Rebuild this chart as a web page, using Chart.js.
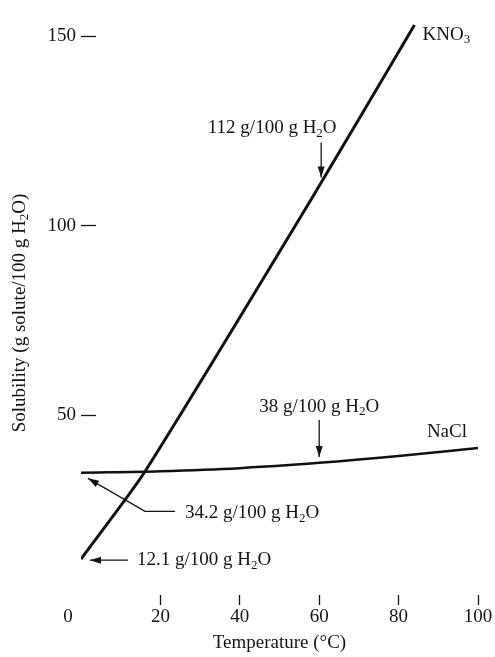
<!DOCTYPE html>
<html>
<head>
<meta charset="utf-8">
<script src="https://cdn.jsdelivr.net/npm/chart.js@4.4.1/dist/chart.umd.min.js"></script>
<style>
  html, body { margin: 0; padding: 0; background: #fff; }
</style>
</head>
<body>
<canvas id="solChart" width="495" height="657"></canvas>
<script>
// values
const tempTicks = [0, 20, 40, 60, 80, 100];
const solTicks = [50, 100, 150];
const kno3Temp = [0, 16, 58, 84];
const kno3Sol = [12.1, 35, 107, 153];
const naclTemp = [0, 20, 40, 60, 80, 100];
const naclSol = [34.9, 35.3, 36.1, 37.5, 39.3, 41.4];

const FAMILY = "'Liberation Serif', 'Times New Roman', serif";
const FONT = "19px " + FAMILY;
const SUB = "13px " + FAMILY;
const INK = '#141414';

// text with subscripts: parts like ['H', ['2'], 'O']
function drawChem(ctx, parts, x, y, align) {
  let w = 0;
  parts.forEach(function (p) {
    ctx.font = Array.isArray(p) ? SUB : FONT;
    w += ctx.measureText(Array.isArray(p) ? p[0] : p).width;
  });
  let cx = align === 'center' ? x - w / 2 : (align === 'right' ? x - w : x);
  ctx.textAlign = 'left';
  ctx.textBaseline = 'middle';
  parts.forEach(function (p) {
    const sub = Array.isArray(p);
    const t = sub ? p[0] : p;
    ctx.font = sub ? SUB : FONT;
    ctx.fillText(t, cx, sub ? y + 5 : y);
    cx += ctx.measureText(t).width;
  });
}

function arrow(ctx, pts) {
  ctx.beginPath();
  ctx.moveTo(pts[0][0], pts[0][1]);
  for (let i = 1; i < pts.length; i++) ctx.lineTo(pts[i][0], pts[i][1]);
  ctx.stroke();
  const a = pts[pts.length - 2], b = pts[pts.length - 1];
  const ang = Math.atan2(b[1] - a[1], b[0] - a[0]);
  ctx.beginPath();
  ctx.moveTo(b[0], b[1]);
  ctx.lineTo(b[0] - 11 * Math.cos(ang) + 3.5 * Math.sin(ang), b[1] - 11 * Math.sin(ang) - 3.5 * Math.cos(ang));
  ctx.lineTo(b[0] - 11 * Math.cos(ang) - 3.5 * Math.sin(ang), b[1] - 11 * Math.sin(ang) + 3.5 * Math.cos(ang));
  ctx.closePath();
  ctx.fill();
}

const annotate = {
  id: 'annotate',
  afterDraw(chart) {
    const ctx = chart.ctx;
    const x = chart.scales.x, y = chart.scales.y;
    const area = chart.chartArea;
    ctx.save();
    ctx.fillStyle = INK;
    ctx.strokeStyle = INK;
    ctx.lineWidth = 1.3;

    // 112 g at 60 C
    let tx = x.getPixelForValue(60.5), ty = y.getPixelForValue(112) - 3;
    arrow(ctx, [[tx, ty - 35], [tx, ty]]);
    drawChem(ctx, ['112 g/100 g H', ['2'], 'O'], tx - 49, ty - 49, 'center');

    // 38 g at 60 C
    tx = x.getPixelForValue(60); ty = y.getPixelForValue(38) - 4;
    arrow(ctx, [[tx, ty - 37], [tx, ty]]);
    drawChem(ctx, ['38 g/100 g H', ['2'], 'O'], tx, ty - 50, 'center');

    // 34.2 g at 0 C
    tx = x.getPixelForValue(0) + 7; ty = y.getPixelForValue(34.2) + 3;
    arrow(ctx, [[tx + 87, ty + 33], [tx + 57, ty + 33], [tx, ty]]);
    drawChem(ctx, ['34.2 g/100 g H', ['2'], 'O'], tx + 97, ty + 35, 'left');

    // 12.1 g at 0 C
    tx = x.getPixelForValue(0) + 9; ty = y.getPixelForValue(12.1) + 1;
    arrow(ctx, [[tx + 38, ty], [tx, ty]]);
    drawChem(ctx, ['12.1 g/100 g H', ['2'], 'O'], tx + 47, ty, 'left');

    // series names
    tx = x.getPixelForValue(kno3Temp[kno3Temp.length - 1]);
    ty = y.getPixelForValue(kno3Sol[kno3Sol.length - 1]);
    drawChem(ctx, ['KNO', ['3']], tx + 8, ty + 10, 'left');
    tx = x.getPixelForValue(naclTemp[naclTemp.length - 1]);
    ty = y.getPixelForValue(naclSol[naclSol.length - 1]);
    drawChem(ctx, ['NaCl'], tx - 11, ty - 16, 'right');

    // origin label and axis titles
    drawChem(ctx, ['0'], x.getPixelForValue(0) - 13, area.bottom + 12, 'center');
    drawChem(ctx, ['Temperature (°C)'], (area.left + area.right) / 2, 643, 'center');
    ctx.translate(20, 313);
    ctx.rotate(-Math.PI / 2);
    drawChem(ctx, ['Solubility (g solute/100 g H', ['2'], 'O)'], 0, 0, 'center');
    ctx.restore();
  }
};

const el = document.getElementById('solChart');
new Chart(el, {
  type: 'line',
  data: {
    datasets: [
      {
        label: 'KNO3',
        data: kno3Temp.map(function (t, i) { return { x: t, y: kno3Sol[i] }; }),
        borderColor: '#111',
        borderWidth: 3,
        pointRadius: 0,
        tension: 0.2
      },
      {
        label: 'NaCl',
        data: naclTemp.map(function (t, i) { return { x: t, y: naclSol[i] }; }),
        borderColor: '#111',
        borderWidth: 2.5,
        pointRadius: 0,
        cubicInterpolationMode: 'monotone'
      }
    ]
  },
  options: {
    responsive: false,
    animation: false,
    layout: { padding: { top: 6, right: 17, left: 0, bottom: 0 } },
    plugins: {
      legend: { display: false },
      tooltip: { enabled: false }
    },
    scales: {
      x: {
        type: 'linear',
        min: 0,
        max: 100,
        afterBuildTicks: function (s) { s.ticks = tempTicks.map(function (v) { return { value: v }; }); },
        afterFit: function (s) { s.height = 52; s.paddingLeft = 0; s.paddingRight = 0; },
        border: { display: false },
        grid: {
          drawOnChartArea: false,
          tickLength: -10,
          tickWidth: 1.3,
          tickColor: function (c) { return c.tick && c.tick.value === 0 ? 'rgba(0,0,0,0)' : INK; }
        },
        ticks: {
          padding: 11,
          maxRotation: 0,
          color: INK,
          font: { family: FAMILY, size: 19 },
          callback: function (v) { return v === 0 ? '' : v; }
        }
      },
      y: {
        min: 0,
        max: 158,
        afterBuildTicks: function (s) { s.ticks = solTicks.map(function (v) { return { value: v }; }); },
        afterFit: function (s) { s.width = 81; s.paddingTop = 0; s.paddingBottom = 0; },
        border: { display: false },
        grid: {
          drawOnChartArea: false,
          tickLength: -15,
          tickWidth: 1.3,
          tickColor: INK
        },
        ticks: {
          padding: 20,
          color: INK,
          font: { family: FAMILY, size: 19 }
        }
      }
    }
  },
  plugins: [annotate]
});
</script>
</body>
</html>
